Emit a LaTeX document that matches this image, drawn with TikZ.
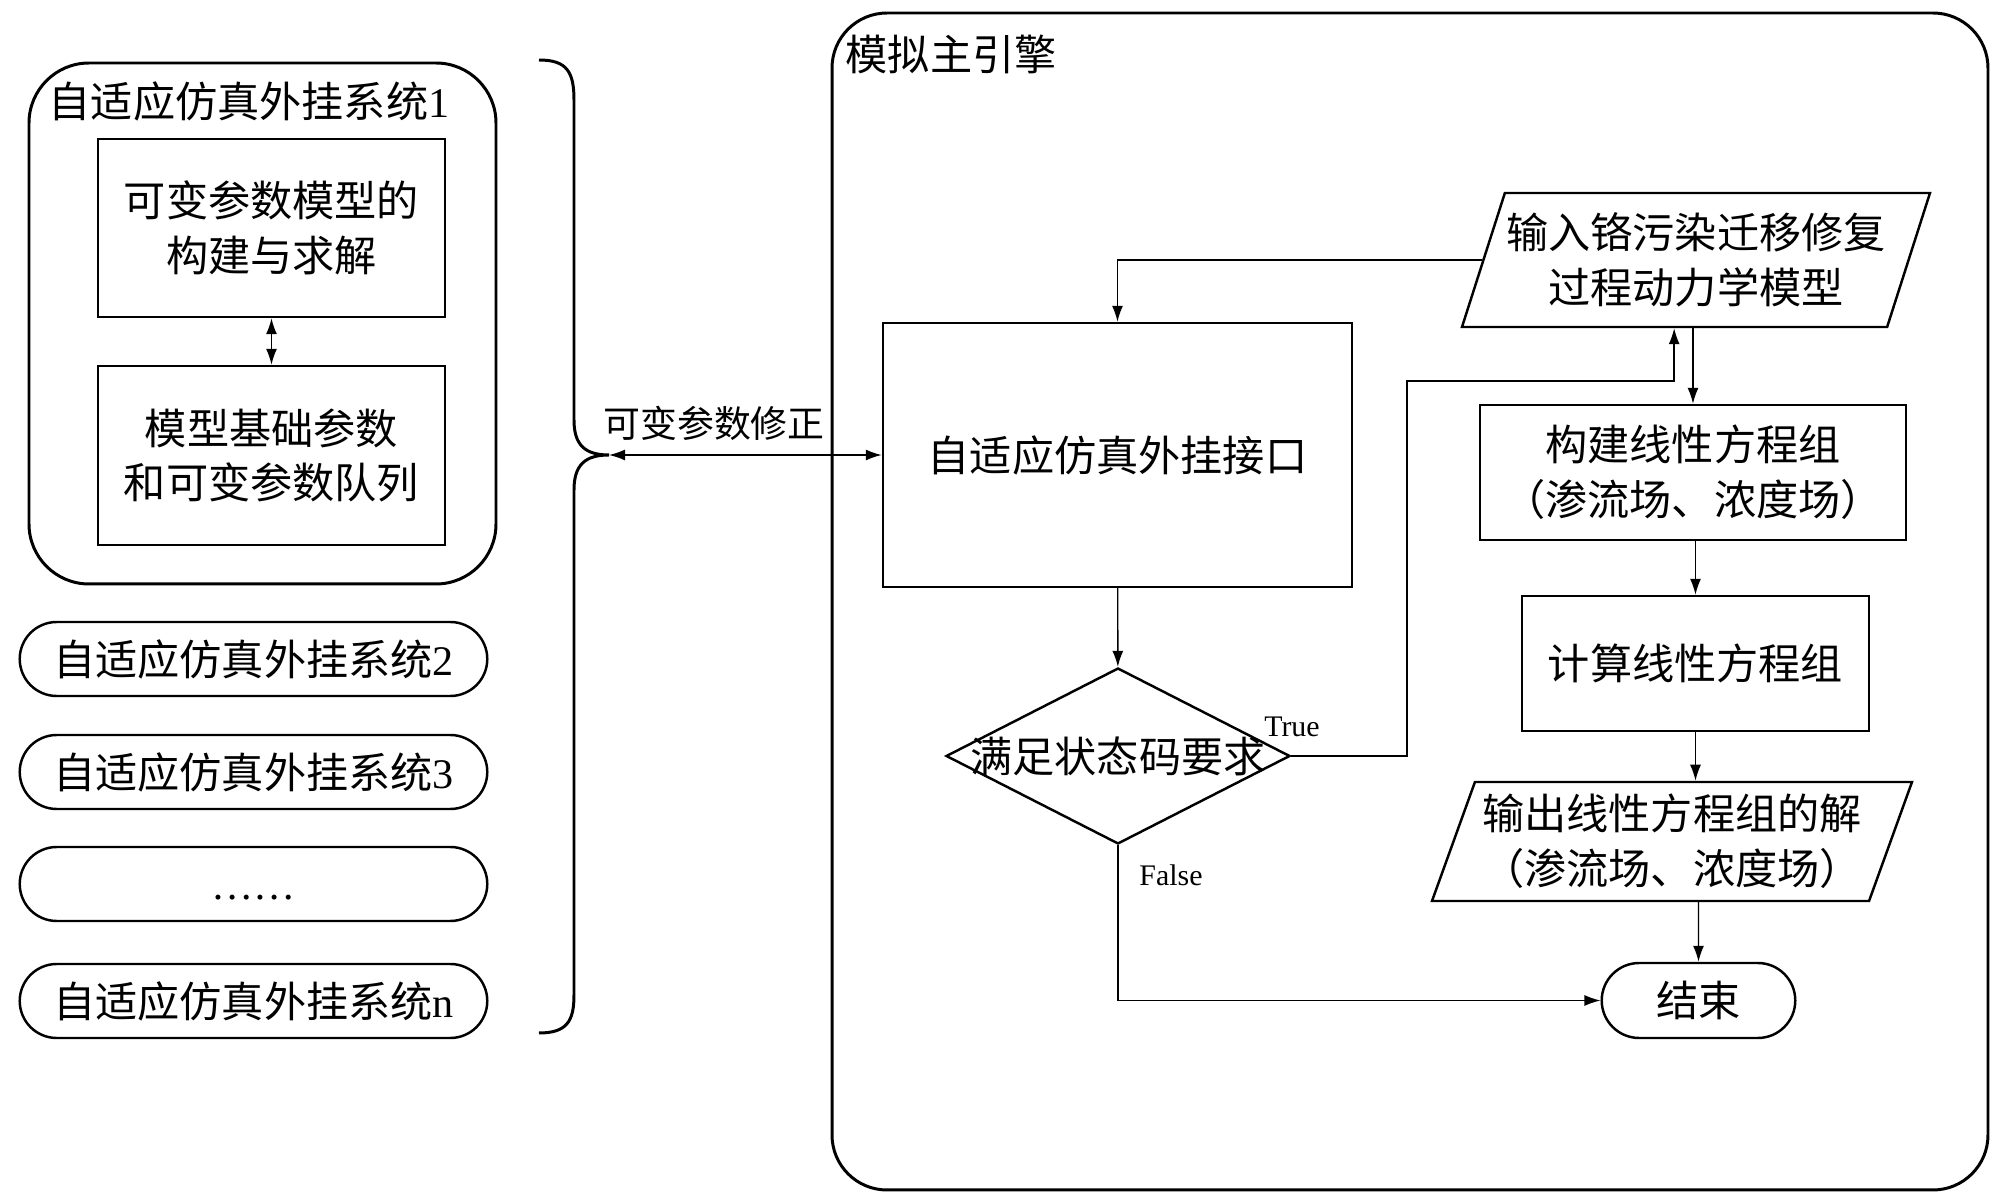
\documentclass[tikz,border=0pt]{standalone}
\usepackage{fontspec}
\setmainfont{Liberation Serif}
\newfontfamily\cjk{Noto Sans CJK SC}
\usetikzlibrary{shapes.geometric,shapes.misc,arrows.meta}
\newcommand\lat[1]{{\rmfamily #1}}
\begin{document}
\begin{tikzpicture}[x=0.1mm,y=-0.1mm,
  font=\cjk\fontsize{12}{15.6}\selectfont,
  grp/.style={draw,rounded corners=6mm,line width=0.85pt},
  box/.style={draw,line width=0.7pt,align=center},
  term/.style={draw,rounded rectangle,line width=0.7pt,minimum width=49.1mm,minimum height=7.4mm},
  io/.style={draw,trapezium,trapezium left angle=70,trapezium right angle=110,trapezium stretches body,line width=0.7pt,align=center,inner xsep=-1mm},
  arr/.style={-{Latex[length=1.6mm,width=1.1mm]},line width=0.4pt},
  darr/.style={{Latex[length=1.6mm,width=1.1mm]}-{Latex[length=1.6mm,width=1.1mm]},line width=0.4pt},
  tag/.style={font=\rmfamily\fontsize{8.5}{10}\selectfont}]
\useasboundingbox (0,0) rectangle (2000,1203);
\node[grp,minimum width=46.7mm,minimum height=52.1mm] (grp1) at (262.5,323.5) {};
\node[anchor=west,inner sep=0] (grp1t) at (48,101) {自适应仿真外挂系统\lat{1}};
\node[box,minimum width=34.7mm,minimum height=17.8mm] (par) at (271.5,228) {可变参数模型的\\构建与求解};
\node[box,minimum width=34.7mm,minimum height=17.9mm] (base) at (271.5,455.5) {模型基础参数\\和可变参数队列};
\draw[darr] (par) -- (base);
\node[term] (sys2) at (253.5,659) {自适应仿真外挂系统\lat{2}};
\node[term] (sys3) at (253.5,772) {自适应仿真外挂系统\lat{3}};
\node[term] (sysd) at (253.5,884) {\lat{\smash{\raisebox{-1.6mm}{……}}}};
\node[term] (sysn) at (253.5,1001) {自适应仿真外挂系统\lat{n}};
\draw[line width=0.85pt] (539,60) .. controls (567,60) and (574,72) .. (574,100) -- (574,420) .. controls (574,445) and (585,455) .. (609,455) .. controls (585,455) and (574,465) .. (574,490) -- (574,995) .. controls (574,1021) and (567,1033) .. (539,1033);
\coordinate (tip) at (609,455);
\node[font=\cjk\fontsize{10.5}{12}\selectfont] (fix) at (714,423) {可变参数修正};
\node[grp,rounded corners=5.5mm,minimum width=115.6mm,minimum height=117.7mm] (eng) at (1410,601.5) {};
\node[anchor=west,inner sep=0] (engt) at (845,54) {模拟主引擎};
\node[box,minimum width=46.9mm,minimum height=26.4mm] (iface) at (1117.5,455) {自适应仿真外挂接口};
\draw[darr] (tip) -- (iface);
\node[io,minimum width=46.8mm,minimum height=13.4mm] (inp) at (1696,260) {输入铬污染迁移修复\\过程动力学模型};
\node[box,minimum width=42.6mm,minimum height=13.5mm] (build) at (1693,472.5) {构建线性方程组\\（渗流场、浓度场）};
\node[box,minimum width=34.7mm,minimum height=13.5mm] (calc) at (1695.5,663.5) {计算线性方程组};
\node[io,minimum width=48mm,minimum height=11.9mm] (out) at (1672,841.5) {输出线性方程组的解\\（渗流场、浓度场）};
\node[term,minimum width=21.7mm,minimum height=7.5mm] (end) at (1698.5,1000.5) {结束};
\node[draw,diamond,line width=0.7pt,minimum width=34.4mm,minimum height=17.6mm,inner sep=0,label=center:满足状态码要求] (cond) at (1118,756) {};
\draw[arr] (inp.west) -| (iface.north);
\draw[arr] (iface) -- (cond);
\draw[arr] (cond.east) -| (1407,381) -| (inp.bottom side);
\draw[arr] (build.north |- inp.south) -- (build);
\draw[arr] (calc.north |- build.south) -- (calc.north);
\draw[arr] (calc.south) -- (calc.south |- out.north);
\draw[arr] (end.north |- out.south) -- (end);
\draw[arr] (cond.south) |- (end.west);
\node[tag] (t) at (1292,727) {True};
\node[tag] (f) at (1171,875) {False};
\end{tikzpicture}
\end{document}
